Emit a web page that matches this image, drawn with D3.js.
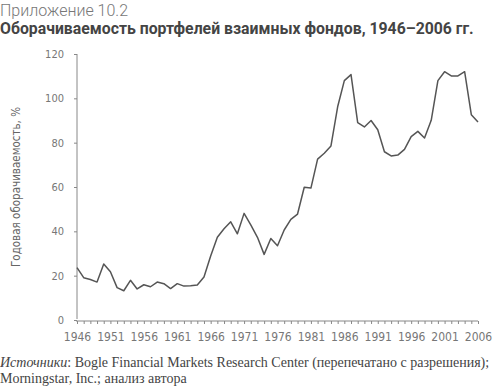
<!DOCTYPE html>
<html>
<head>
<meta charset="utf-8">
<script src="https://cdn.jsdelivr.net/npm/d3@7"></script>
<style>
  body { margin: 0; background: #fff; }
  .tick text { font-family: "Liberation Sans Narrow", "DejaVu Sans Condensed", sans-serif; font-size: 11px; fill: #777; }
</style>
</head>
<body>
<div id="chart"></div>
<script>
// Years and turnover values (%)
const years = d3.range(1946, 2007);
const turnover = [
  23.6, 19.1, 18.3, 17.1, 25.3, 21.8, 14.6, 13.2, 17.9, 14.0,
  15.9, 15.0, 17.1, 16.4, 14.2, 16.4, 15.3, 15.5, 15.8, 19.4,
  28.9, 37.3, 41.2, 44.3, 38.9, 48.1, 42.9, 37.3, 29.6, 36.8,
  33.5, 40.6, 45.4, 47.8, 59.9, 59.5, 72.6, 75.2, 78.5, 96.2,
  108.0, 110.7, 89.0, 87.1, 90.0, 85.8, 75.9, 74.0, 74.4, 77.0,
  82.7, 85.1, 82.1, 90.1, 108.0, 112.0, 110.1, 110.1, 112.0, 92.6,
  89.3
];
const yTicks = [0, 20, 40, 60, 80, 100, 120];
const xLabelYears = d3.range(1946, 2007, 5);

let data = years.map((y, i) => ({year: y, value: turnover[i]}));

let margin = {top: 54, right: 22, bottom: 68, left: 77},
    width = 500 - margin.left - margin.right,
    height = 388 - margin.top - margin.bottom;

let root = d3.select("#chart").append("svg")
  .attr("width", 500)
  .attr("height", 388);

// Headings
root.append("text")
  .attr("x", 0).attr("y", 16)
  .style("font-family", "Roboto, sans-serif")
  .style("font-weight", 300)
  .style("font-size", "16px")
  .style("fill", "#777")
  .text("Приложение 10.2");

root.append("text")
  .attr("x", 0).attr("y", 34)
  .style("font-family", "Roboto, sans-serif")
  .style("font-weight", 700)
  .style("font-size", "15.8px")
  .style("fill", "#444")
  .text("Оборачиваемость портфелей взаимных фондов, 1946–2006 гг.");

let svg = root.append("g")
  .attr("transform", "translate(" + margin.left + "," + margin.top + ")");

let x = d3.scaleLinear().domain([1946, 2006]).range([0, width]);
let y = d3.scaleLinear().domain([0, 120]).range([height, 0]);

// X axis: a tick every year, labels every five
let xAxis = svg.append("g")
  .attr("transform", "translate(0," + (height + 1) + ")")
  .call(d3.axisBottom(x)
    .tickValues(years)
    .tickSize(3)
    .tickFormat(d => xLabelYears.includes(d) ? d : ""));
xAxis.select(".domain").attr("stroke", "#888").attr("d", "M" + (-1) + ",0H" + width);
xAxis.selectAll(".tick line").attr("stroke", "#888");
xAxis.selectAll(".tick text").attr("dy", "1.2em").style("font-size", "12px");

// Y axis
let yAxis = svg.append("g")
  .call(d3.axisLeft(y).tickValues(yTicks).tickSize(3).tickPadding(10));
yAxis.select(".domain").attr("stroke", "#888").attr("d", "M0," + (height - 1) + "V0");
yAxis.selectAll(".tick line").attr("stroke", "#888");

// Y label
svg.append("text")
  .attr("transform", "rotate(-90)")
  .attr("x", -height / 2)
  .attr("y", -57)
  .attr("text-anchor", "middle")
  .style("font-family", "\"Liberation Sans Narrow\", \"DejaVu Sans Condensed\", sans-serif")
  .style("font-size", "11.5px")
  .style("fill", "#666")
  .text("Годовая оборачиваемость, %");

// Line
svg.append("path")
  .datum(data)
  .attr("fill", "none")
  .attr("stroke", "#555")
  .attr("stroke-width", 1.5)
  .attr("stroke-linejoin", "round")
  .attr("d", d3.line()
    .x(d => x(d.year))
    .y(d => y(d.value)));

// Sources
let src = root.append("text")
  .attr("x", 0).attr("y", 367)
  .style("font-family", "\"Liberation Serif\", serif")
  .style("font-size", "14px")
  .style("fill", "#444");
src.append("tspan").style("font-style", "italic").text("Источники");
src.append("tspan").text(": Bogle Financial Markets Research Center (перепечатано с разрешения);");

root.append("text")
  .attr("x", 0).attr("y", 383)
  .style("font-family", "\"Liberation Serif\", serif")
  .style("font-size", "14px")
  .style("fill", "#444")
  .text("Morningstar, Inc.; анализ автора");
</script>
</body>
</html>
